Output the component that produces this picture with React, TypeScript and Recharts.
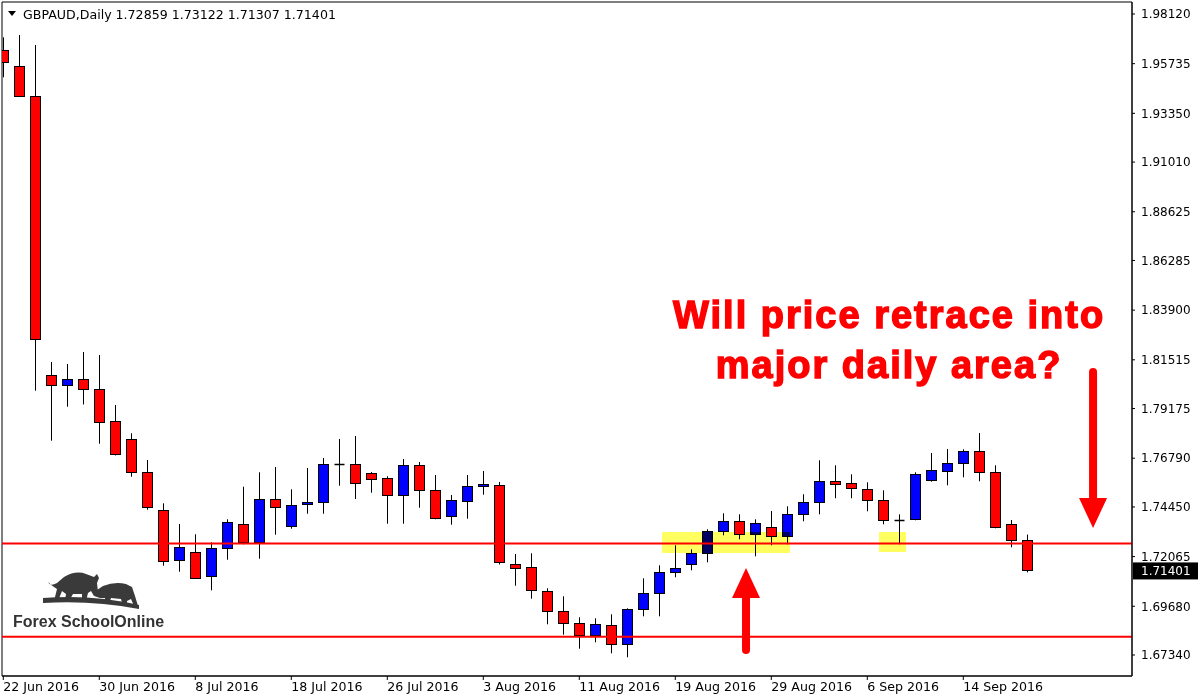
import React from 'react';
import {
  ComposedChart,
  Bar,
  XAxis,
  YAxis,
  ReferenceLine,
  ReferenceArea,
  ReferenceDot,
} from 'recharts';

// ---------- data ----------
const CANDLE_DATES = [
  '22 Jun', '23 Jun', '24 Jun', '27 Jun', '28 Jun', '29 Jun', '30 Jun',
  '1 Jul', '4 Jul', '5 Jul', '6 Jul', '7 Jul', '8 Jul', '11 Jul', '12 Jul', '13 Jul', '14 Jul', '15 Jul',
  '18 Jul', '19 Jul', '20 Jul', '21 Jul', '22 Jul', '25 Jul', '26 Jul', '27 Jul', '28 Jul', '29 Jul',
  '1 Aug', '2 Aug', '3 Aug', '4 Aug', '5 Aug', '8 Aug', '9 Aug', '10 Aug', '11 Aug', '12 Aug',
  '15 Aug', '16 Aug', '17 Aug', '18 Aug', '19 Aug', '22 Aug', '23 Aug', '24 Aug', '25 Aug', '26 Aug',
  '29 Aug', '30 Aug', '31 Aug', '1 Sep', '2 Sep', '5 Sep', '6 Sep', '7 Sep', '8 Sep', '9 Sep',
  '12 Sep', '13 Sep', '14 Sep', '15 Sep', '16 Sep', '19 Sep', '20 Sep',
];

const OPEN = [
  1.96391, 1.95609, 1.94168, 1.80771, 1.80291, 1.80579, 1.80099, 1.78562, 1.77698, 1.76113,
  1.74317, 1.71887, 1.72272, 1.71119, 1.72464, 1.73616, 1.72752, 1.74817, 1.73520, 1.74577,
  1.74673, 1.76497, 1.76497, 1.76065, 1.75825, 1.75009, 1.76449, 1.75249, 1.74000, 1.74721,
  1.75441, 1.75489, 1.71695, 1.71551, 1.70399, 1.69438, 1.68862, 1.68286, 1.68766, 1.67854,
  1.69534, 1.70303, 1.71311, 1.71695, 1.72224, 1.73280, 1.73760, 1.73136, 1.73472, 1.73040,
  1.74096, 1.74673, 1.75681, 1.75585, 1.75297, 1.74769, 1.73837, 1.73856, 1.75729, 1.76161,
  1.76545, 1.77121, 1.76113, 1.73616, 1.72859,
];
const HIGH = [
  1.97001, 1.97112, 1.96632, 1.81410, 1.81314, 1.81890, 1.81746, 1.79345, 1.77986, 1.76704,
  1.74624, 1.73630, 1.73136, 1.72752, 1.73856, 1.75422, 1.76113, 1.76368, 1.75297, 1.76320,
  1.76800, 1.77712, 1.77856, 1.76128, 1.75921, 1.76752, 1.76608, 1.75983, 1.75023, 1.75983,
  1.76175, 1.75647, 1.72190, 1.72224, 1.70543, 1.70159, 1.69150, 1.69102, 1.69294, 1.69582,
  1.71023, 1.71647, 1.72608, 1.72416, 1.73376, 1.74144, 1.74096, 1.73856, 1.74255, 1.74480,
  1.75057, 1.76689, 1.76449, 1.76017, 1.75633, 1.75249, 1.74096, 1.76113, 1.77040, 1.77232,
  1.77217, 1.78000, 1.76449, 1.73823, 1.73122,
];
const LOW = [
  1.95081, 1.94135, 1.80031, 1.77631, 1.79263, 1.79369, 1.77486, 1.76920, 1.75902, 1.74317,
  1.71628, 1.71340, 1.71013, 1.70447, 1.71916, 1.72656, 1.71964, 1.73117, 1.73405, 1.74125,
  1.74125, 1.75470, 1.74831, 1.75134, 1.73645, 1.73645, 1.74413, 1.73856, 1.73597, 1.73885,
  1.75037, 1.71686, 1.70668, 1.70043, 1.68814, 1.68315, 1.67643, 1.67950, 1.67422, 1.67230,
  1.69198, 1.69198, 1.71071, 1.71407, 1.71791, 1.73088, 1.72896, 1.72079, 1.72608, 1.72656,
  1.73760, 1.74096, 1.74865, 1.74865, 1.74240, 1.73616, 1.72656, 1.73808, 1.75662, 1.75489,
  1.75873, 1.75681, 1.73424, 1.72512, 1.71307,
];
const CLOSE = [
  1.95801, 1.94168, 1.82500, 1.80291, 1.80579, 1.80099, 1.78514, 1.76977, 1.76113, 1.74432,
  1.71839, 1.72512, 1.71023, 1.72464, 1.73712, 1.72752, 1.74817, 1.74432, 1.74528, 1.74687,
  1.76497, 1.76497, 1.75585, 1.75806, 1.75009, 1.76449, 1.75278, 1.73904, 1.74769, 1.75441,
  1.75537, 1.71791, 1.71503, 1.70447, 1.69438, 1.68862, 1.68286, 1.68814, 1.67854, 1.69534,
  1.70303, 1.71311, 1.71503, 1.72224, 1.73280, 1.73760, 1.73136, 1.73664, 1.73069, 1.74096,
  1.74673, 1.75681, 1.75537, 1.75345, 1.74769, 1.73808, 1.73837, 1.76017, 1.76209, 1.76545,
  1.77121, 1.76113, 1.73472, 1.72848, 1.71401,
];

const TICK_INDEXES = [0, 6, 12, 18, 24, 30, 36, 42, 48, 54, 60];
const TICK_LABELS = TICK_INDEXES.map((i) => `${CANDLE_DATES[i]} 2016`);

const Y_TICKS = [
  1.6734, 1.6968, 1.72065, 1.7445, 1.7679, 1.79175, 1.81515, 1.839, 1.86285, 1.88625, 1.9101,
  1.9335, 1.95735, 1.9812,
];

const SUPPORT_LEVELS = [1.72694, 1.68219];
const LAST_PRICE = 1.71401;
const SYMBOL_TITLE = 'GBPAUD,Daily  1.72859 1.73122 1.71307 1.71401';
const QUESTION_LINES = ['Will price retrace into', 'major daily area?'];
const LOGO_TEXT = 'Forex SchoolOnline';

// highlighted zones (index / price)
const ZONE_A = { x1: 41.17, x2: 49.17, y1: 1.72238, y2: 1.73246 };
const ZONE_B = { x1: 54.73, x2: 56.42, y1: 1.72286, y2: 1.73246 };
// arrows: tail -> tip
const ARROW_UP = [{ x: 46.42, y: 1.6758 }, { x: 46.42, y: 1.71518 }];
const ARROW_DOWN = [{ x: 68.11, y: 1.8093 }, { x: 68.11, y: 1.73438 }];
const QUESTION_ANCHOR = { x: 55.36, y: 1.83042 };

// axis domains
const X_DOMAIN: [number, number] = [-0.081, 70.544];
const Y_DOMAIN: [number, number] = [1.66332, 1.98696];

const rows = CANDLE_DATES.map((d, i) => ({
  i,
  date: d,
  open: OPEN[i],
  high: HIGH[i],
  low: LOW[i],
  close: CLOSE[i],
  range: [LOW[i], HIGH[i]],
}));

const FONT = '"DejaVu Sans", Verdana, sans-serif';

// ---------- shapes ----------
const Candle = (props: any) => {
  const { x, y, width, height, payload } = props;
  if (payload == null || x == null) return null;
  const { open, close, high, low } = payload;
  const h = Math.abs(height);
  const top = height >= 0 ? y : y + height;
  const ratio = h / (high - low);
  const py = (p: number) => top + (high - p) * ratio;
  const cx = Math.round(x + width / 2) + 0.5;
  const yo = py(open);
  const yc = py(close);
  const bodyTop = Math.round(Math.min(yo, yc)) + 0.5;
  const bodyBot = Math.round(Math.max(yo, yc)) + 0.5;
  const up = close > open;
  return (
    <g>
      <line x1={cx} x2={cx} y1={py(high)} y2={py(low)} stroke="#000" strokeWidth={1} />
      {bodyBot - bodyTop < 1 ? (
        <line x1={cx - 5} x2={cx + 5} y1={bodyTop} y2={bodyTop} stroke="#000" strokeWidth={1.5} />
      ) : (
        <rect
          x={cx - 5}
          y={bodyTop}
          width={10}
          height={bodyBot - bodyTop}
          fill={up ? '#0000ff' : '#ff0000'}
          stroke="#000"
          strokeWidth={1}
        />
      )}
    </g>
  );
};

const Arrow = (props: any) => {
  const { x1, y1, x2, y2 } = props;
  if (x1 == null) return null;
  const dir = y2 > y1 ? 1 : -1;
  const headLen = 30;
  const headHalf = 14;
  const baseY = y2 - dir * headLen;
  return (
    <g>
      <line x1={x1} y1={y1} x2={x2} y2={baseY + dir * 2} stroke="#ff0000" strokeWidth={8} strokeLinecap="round" />
      <polygon
        points={`${x2 - headHalf},${baseY} ${x2 + headHalf},${baseY} ${x2},${y2}`}
        fill="#ff0000"
      />
    </g>
  );
};

const YellowZone = (props: any) => {
  const { x, y, width, height } = props;
  if (x == null) return null;
  return (
    <rect
      x={x}
      y={y}
      width={width}
      height={height}
      fill="#ffff60"
      style={{ mixBlendMode: 'multiply' }}
    />
  );
};

const QuestionText = (props: any) => {
  const { cx, cy } = props;
  if (cx == null) return null;
  return (
    <text
      x={cx}
      y={cy}
      textAnchor="middle"
      fill="#ff0000"
      stroke="#ff0000"
      strokeWidth={1.4}
      fontFamily='"Liberation Sans", Arial, sans-serif'
      fontWeight="bold"
      fontSize={38}
      letterSpacing={2}
    >
      <tspan x={cx} y={cy}>{QUESTION_LINES[0]}</tspan>
      <tspan x={cx} y={cy + 50}>{QUESTION_LINES[1]}</tspan>
    </text>
  );
};

const PriceTag = (props: any) => {
  const { cx, cy } = props;
  if (cx == null) return null;
  return (
    <g>
      <rect x={cx + 1} y={cy - 8} width={65} height={17} fill="#000" />
      <text x={cx + 9} y={cy} dy="0.36em" fill="#fff" fontSize={12} fontFamily={FONT}>
        {LAST_PRICE.toFixed(5)}
      </text>
    </g>
  );
};

const XTick = (props: any) => {
  const { x, y, payload } = props;
  const idx = TICK_INDEXES.indexOf(payload.value);
  return (
    <text x={x} y={y} dy={9} textAnchor="start" fontSize={12.6} fontFamily={FONT} fill="#000">
      {idx >= 0 ? TICK_LABELS[idx] : ''}
    </text>
  );
};

const Logo = () => (
  <svg width={180} height={80} style={{ position: 'absolute', left: 0, top: 560 }} viewBox="0 560 180 80">
    <path
      d="M43,598 Q92,594 139,605 L139,609 Q92,600 43,603 Z"
      fill="#3a3a3a"
    />
    <path
      d="M48,582 Q50,587 57,583 L64,577 Q76,570 86,574 L94,577 L97,574 L99,578 L97,583 L98,592 L94,596 L91,591 L88,593 L86,601 L82,601 L82,594 L73,594 L69,601 L65,601 L66,594 L62,591 L58,601 L54,601 L57,589 Q52,586 48,582 Z"
      fill="#3a3a3a"
    />
    <path
      d="M94,596 L97,590 L103,586 Q115,581 126,584 L132,587 L135,596 L138,606 L134,606 L131,599 L127,601 L127,606 L123,606 L121,599 L111,598 L109,604 L105,604 L105,598 L100,598 Z"
      fill="#3a3a3a"
    />
    <text
      x={13}
      y={627}
      fontFamily='"Liberation Sans", Arial, sans-serif'
      fontWeight="bold"
      fontSize={16}
      fill="#333"
    >
      {LOGO_TEXT}
    </text>
  </svg>
);

const Header = () => (
  <svg width={400} height={26} style={{ position: 'absolute', left: 0, top: 0 }}>
    <polygon points="8,11 16,11 12,16" fill="#000" />
    <text x={23} y={14} dy="0.36em" fontSize={12.6} fontFamily={FONT} fill="#000">
      {SYMBOL_TITLE}
    </text>
  </svg>
);

export default function App() {
  return (
    <div style={{ position: 'relative', width: 1200, height: 700, background: '#fff' }}>
      <style>{'body{margin:0;background:#fff;}'}</style>
      <ComposedChart
        width={1200}
        height={700}
        data={rows}
        margin={{ top: 2, right: 0, bottom: 0, left: 2 }}
      >
        <XAxis
          dataKey="i"
          type="number"
          domain={X_DOMAIN}
          allowDataOverflow
          ticks={TICK_INDEXES}
          interval={0}
          height={24}
          tickSize={4}
          tickMargin={2}
          tick={<XTick />}
          axisLine={{ stroke: '#000' }}
          tickLine={{ stroke: '#000' }}
        />
        <YAxis
          orientation="right"
          type="number"
          domain={Y_DOMAIN}
          allowDataOverflow
          ticks={Y_TICKS}
          interval={0}
          width={68}
          tickSize={3}
          tickMargin={6}
          tickFormatter={(v: number) => v.toFixed(5)}
          tick={{ fontSize: 12, fontFamily: FONT, fill: '#000' }}
          axisLine={{ stroke: '#000' }}
          tickLine={{ stroke: '#000' }}
        />
        <ReferenceArea
          x1={X_DOMAIN[0]}
          x2={X_DOMAIN[1]}
          y1={Y_DOMAIN[0]}
          y2={Y_DOMAIN[1]}
          fill="none"
          stroke="#000"
          strokeWidth={1}
          fillOpacity={0}
        />
        {SUPPORT_LEVELS.map((lvl) => (
          <ReferenceLine key={lvl} y={lvl} stroke="#ff0000" strokeWidth={2} />
        ))}
        <Bar
          dataKey="range"
          barSize={11}
          shape={<Candle />}
          isAnimationActive={false}
        />
        <ReferenceArea {...ZONE_A} shape={<YellowZone />} zIndex={1000} />
        <ReferenceArea {...ZONE_B} shape={<YellowZone />} zIndex={1000} />
        <ReferenceLine segment={ARROW_UP} shape={<Arrow />} zIndex={1100} />
        <ReferenceLine segment={ARROW_DOWN} shape={<Arrow />} zIndex={1100} />
        <ReferenceDot x={QUESTION_ANCHOR.x} y={QUESTION_ANCHOR.y} r={0} shape={<QuestionText />} zIndex={1100} />
        <ReferenceDot x={X_DOMAIN[1]} y={LAST_PRICE} r={0} shape={<PriceTag />} zIndex={1100} />
      </ComposedChart>
      <Header />
      <Logo />
    </div>
  );
}
